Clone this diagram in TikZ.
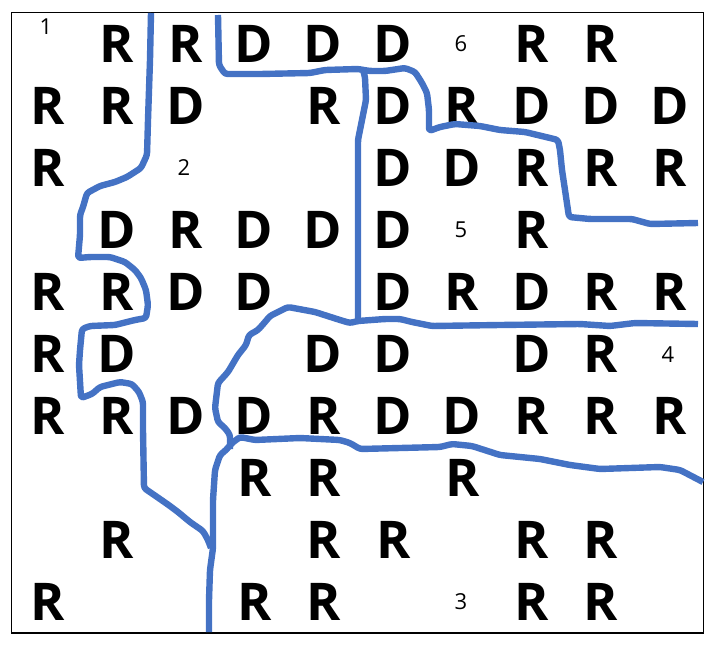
\documentclass[tikz,border=0pt]{standalone}
\usepackage{xcolor}
\usepackage{fontspec}
\setmainfont{Open Sans}
\usepackage{tikz}
\definecolor{borderblue}{HTML}{4472C4}

\begin{document}
\begin{tikzpicture}[x=0.75pt,y=-0.75pt,
    letter/.style={inner sep=0pt,font=\fontsize{39}{39}\selectfont\bfseries},
    areanum/.style={inner sep=0pt,font=\fontsize{16.5}{17}\selectfont},
    border/.style={draw=borderblue,line width=4.8pt,line join=round,rounded corners=2pt}]
      \useasboundingbox (0,0) rectangle (718,650);

      % Frame
      \draw[line width=0.8pt] (11.5,12.5) rectangle (703.5,633);

      % Area numbers
      \node[areanum] (num1) at (46,27) {1};
      \node[areanum] (num2) at (184,168) {2};
      \node[areanum] (num3) at (461,602) {3};
      \node[areanum] (num4) at (668,355) {4};
      \node[areanum] (num5) at (461,230) {5};
      \node[areanum] (num6) at (461,44) {6};

      % Row 1
      \node[letter] (r1c2) at (117,43.7) {R};
      \node[letter] (r1c3) at (186,43.7) {R};
      \node[letter] (r1c4) at (254,43.7) {D};
      \node[letter] (r1c5) at (323,43.7) {D};
      \node[letter] (r1c6) at (393,43.7) {D};
      \node[letter] (r1c8) at (532,43.7) {R};
      \node[letter] (r1c9) at (601,43.7) {R};

      % Row 2
      \node[letter] (r2c1) at (48,106) {R};
      \node[letter] (r2c2) at (117,106) {R};
      \node[letter] (r2c3) at (186,106) {D};
      \node[letter] (r2c5) at (324,106) {R};
      \node[letter] (r2c6) at (393,106) {D};
      \node[letter] (r2c7) at (462,106) {R};
      \node[letter] (r2c8) at (532,106) {D};
      \node[letter] (r2c9) at (601,106) {D};
      \node[letter] (r2c10) at (670,106) {D};

      % Row 3
      \node[letter] (r3c1) at (48,168) {R};
      \node[letter] (r3c6) at (393,168) {D};
      \node[letter] (r3c7) at (462,168) {D};
      \node[letter] (r3c8) at (532,168) {R};
      \node[letter] (r3c9) at (601,168) {R};
      \node[letter] (r3c10) at (670,168) {R};

      % Row 4
      \node[letter] (r4c2) at (117,230) {D};
      \node[letter] (r4c3) at (186,230) {R};
      \node[letter] (r4c4) at (254,230) {D};
      \node[letter] (r4c5) at (323,230) {D};
      \node[letter] (r4c6) at (393,230) {D};
      \node[letter] (r4c8) at (532,230) {R};

      % Row 5
      \node[letter] (r5c1) at (48,292) {R};
      \node[letter] (r5c2) at (117,292) {R};
      \node[letter] (r5c3) at (186,292) {D};
      \node[letter] (r5c4) at (254,292) {D};
      \node[letter] (r5c6) at (393,292) {D};
      \node[letter] (r5c7) at (462,292) {R};
      \node[letter] (r5c8) at (532,292) {D};
      \node[letter] (r5c9) at (601,292) {R};
      \node[letter] (r5c10) at (670,292) {R};

      % Row 6
      \node[letter] (r6c1) at (48,353.7) {R};
      \node[letter] (r6c2) at (117,353.7) {D};
      \node[letter] (r6c5) at (323,353.7) {D};
      \node[letter] (r6c6) at (393,353.7) {D};
      \node[letter] (r6c8) at (532,353.7) {D};
      \node[letter] (r6c9) at (601,353.7) {R};

      % Row 7
      \node[letter] (r7c1) at (48,415.7) {R};
      \node[letter] (r7c2) at (117,415.7) {R};
      \node[letter] (r7c3) at (186,415.7) {D};
      \node[letter] (r7c4) at (254,415.7) {D};
      \node[letter] (r7c5) at (324,415.7) {R};
      \node[letter] (r7c6) at (393,415.7) {D};
      \node[letter] (r7c7) at (462,415.7) {D};
      \node[letter] (r7c8) at (532,415.7) {R};
      \node[letter] (r7c9) at (601,415.7) {R};
      \node[letter] (r7c10) at (670,415.7) {R};

      % Row 8
      \node[letter] (r8c4) at (255,477.7) {R};
      \node[letter] (r8c5) at (324,477.7) {R};
      \node[letter] (r8c7) at (463,477.7) {R};

      % Row 9
      \node[letter] (r9c2) at (117,539.7) {R};
      \node[letter] (r9c5) at (324,539.7) {R};
      \node[letter] (r9c6) at (394,539.7) {R};
      \node[letter] (r9c8) at (532,539.7) {R};
      \node[letter] (r9c9) at (601,539.7) {R};

      % Row 10
      \node[letter] (r10c1) at (48,602) {R};
      \node[letter] (r10c4) at (255,602) {R};
      \node[letter] (r10c5) at (324,602) {R};
      \node[letter] (r10c8) at (532,602) {R};
      \node[letter] (r10c9) at (601,602) {R};

      % Left border
      \draw[border] (151,13) -- (150,60) -- (148,120) -- (147,155) -- (141,168) -- (127,177) -- (115,182) -- (100,186) -- (87,193) -- (83,207) -- (80,215) -- (80,235) -- (78,258) -- (90,257) -- (110,257) -- (125,262) -- (135,270) -- (141,278) -- (146,290) -- (148,305) -- (146,318) -- (135,320) -- (115,325) -- (90,326) -- (82,329) -- (80,350) -- (79,365) -- (81,398) -- (92,394) -- (100,387) -- (120,382) -- (132,384) -- (139,392) -- (143,402) -- (143,430) -- (144,488) -- (160,499) -- (170,506) -- (178,512) -- (190,522) -- (203,531) -- (208,540) -- (211,548);

      % Bottom border
      \draw[border] (209,632) -- (209,600) -- (210,570) -- (213,548) -- (213,500) -- (215,470) -- (220,455) -- (226,450) -- (232,443) -- (240,437) -- (255,440) -- (300,438) -- (340,440) -- (350,443) -- (360,449) -- (440,447) -- (452,444) -- (472,446) -- (500,455) -- (540,459) -- (570,465) -- (600,469) -- (660,467) -- (680,470) -- (703,482);

      % Middle border
      \draw[border] (230,449) -- (230,435) -- (225,428) -- (218,422) -- (215,408) -- (218,383) -- (228,372) -- (238,355) -- (246,345) -- (249,335) -- (258,330) -- (265,322) -- (270,316) -- (288,307) -- (315,312) -- (340,320) -- (350,323) -- (358,321) -- (385,319) -- (400,319) -- (412,322) -- (432,326) -- (500,325) -- (580,324) -- (610,326) -- (635,323) -- (698,324);

      % Inner vertical border
      \draw[border] (358,321) -- (358,140) -- (362,120) -- (366,100) -- (365,77) -- (363,70);

      % Top border
      \draw[border] (218,15) -- (219,65) -- (225,74) -- (260,74) -- (310,73) -- (325,70) -- (358,69) -- (370,71) -- (385,71) -- (405,68) -- (415,72) -- (422,83) -- (427,93) -- (429,110) -- (429,131) -- (440,127) -- (455,124) -- (480,126) -- (500,130) -- (525,132) -- (550,138) -- (558,140) -- (560,150) -- (562,170) -- (565,190) -- (569,217) -- (590,219) -- (632,219) -- (650,224) -- (698,223);
  \end{tikzpicture}
\end{document}
